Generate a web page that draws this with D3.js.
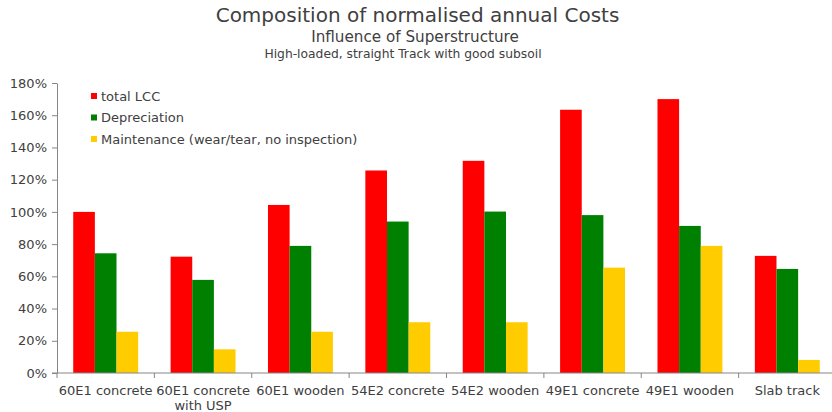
<!DOCTYPE html>
<html><head><meta charset="utf-8">
<script src="https://cdn.jsdelivr.net/npm/d3@7"></script>
<style>
body{margin:0;background:#fff;}
svg{display:block;font-family:"DejaVu Sans",Verdana,sans-serif;}
</style></head>
<body><svg id="c" width="832" height="412"></svg>
<script>
const categories = [["60E1 concrete"],["60E1 concrete","with USP"],["60E1 wooden"],["54E2 concrete"],["54E2 wooden"],["49E1 concrete"],["49E1 wooden"],["Slab track"]];
const seriesNames = ["total LCC","Depreciation","Maintenance (wear/tear, no inspection)"];
const totalLCC = [100, 72.2, 104.3, 125.7, 131.7, 163.4, 170, 72.7];
const depreciation = [74.3, 57.8, 78.9, 94, 100.2, 98, 91.3, 64.6];
const maintenance = [25.6, 14.7, 25.6, 31.5, 31.5, 65.4, 78.9, 8.1];
const yTicks = [0,20,40,60,80,100,120,140,160,180];
const colors = ["#ff0000","#008000","#ffcc00"];
const series = [totalLCC, depreciation, maintenance];

(function(){
const svg = d3.select("#c");
const pLeft = 57, pRight = 836, pTop = 83, pBottom = 373;
const x0 = d3.scaleBand().domain(d3.range(categories.length)).range([pLeft, pRight]).padding(0);
const bw = x0.bandwidth();
const x1 = d3.scaleBand().domain(d3.range(3)).range([bw*0.75/4.5, bw - bw*0.75/4.5]).padding(0);
const y = d3.scaleLinear().domain([0,180]).range([pBottom, pTop]);

// titles
svg.append("text").attr("x",417.5).attr("y",22).attr("text-anchor","middle").attr("font-size",20).attr("fill","#404040").text("Composition of normalised annual Costs");
svg.append("text").attr("x",415).attr("y",42).attr("text-anchor","middle").attr("font-size",15.2).attr("fill","#404040").text("Influence of Superstructure");
svg.append("text").attr("x",403).attr("y",57.5).attr("text-anchor","middle").attr("font-size",12.3).attr("fill","#404040").text("High-loaded, straight Track with good subsoil");

// bars
const g = svg.append("g");
series.forEach((s,si)=>{
  g.selectAll(null).data(s).join("rect")
    .attr("x",(d,i)=>x0(i)+x1(si))
    .attr("width",x1.bandwidth())
    .attr("y",d=>y(d))
    .attr("height",d=>y(0)-y(d))
    .attr("fill",colors[si]);
});

// y axis
const yAxis = d3.axisLeft(y).tickValues(yTicks).tickFormat(d=>d+"%").tickSize(5).tickSizeOuter(0);
const ya = svg.append("g").attr("transform",`translate(${pLeft},0)`).call(yAxis);
ya.select(".domain").attr("stroke","#868686");
ya.selectAll(".tick line").attr("stroke","#868686");
ya.selectAll(".tick text").attr("font-size",13).attr("fill","#404040").attr("font-family","DejaVu Sans").attr("x",-10);

// x axis
const xa = svg.append("g").attr("transform",`translate(0,${pBottom})`);
xa.append("line").attr("x1",pLeft-5).attr("x2",pRight).attr("y1",0).attr("y2",0).attr("stroke","#868686");
xa.selectAll(".xt").data(d3.range(categories.length+1)).join("line")
  .attr("x1",i=>pLeft+i*bw).attr("x2",i=>pLeft+i*bw).attr("y1",0).attr("y2",5).attr("stroke","#868686");
xa.selectAll(".xl").data(categories).join("text")
  .attr("text-anchor","middle").attr("font-size",13).attr("fill","#404040")
  .each(function(lines,i){
    const t=d3.select(this);
    lines.forEach((l,k)=>t.append("tspan").attr("x",x0(i)+bw/2).attr("y",22+k*15).text(l));
  });

// legend
const lg = svg.append("g");
seriesNames.forEach((n,i)=>{
  lg.append("rect").attr("x",91).attr("y",93+i*21.5).attr("width",6).attr("height",6).attr("fill",colors[i]);
  lg.append("text").attr("x",101).attr("y",100.5+i*21.5).attr("font-size",13).attr("fill","#404040").text(n);
});
})();
</script></body></html>
